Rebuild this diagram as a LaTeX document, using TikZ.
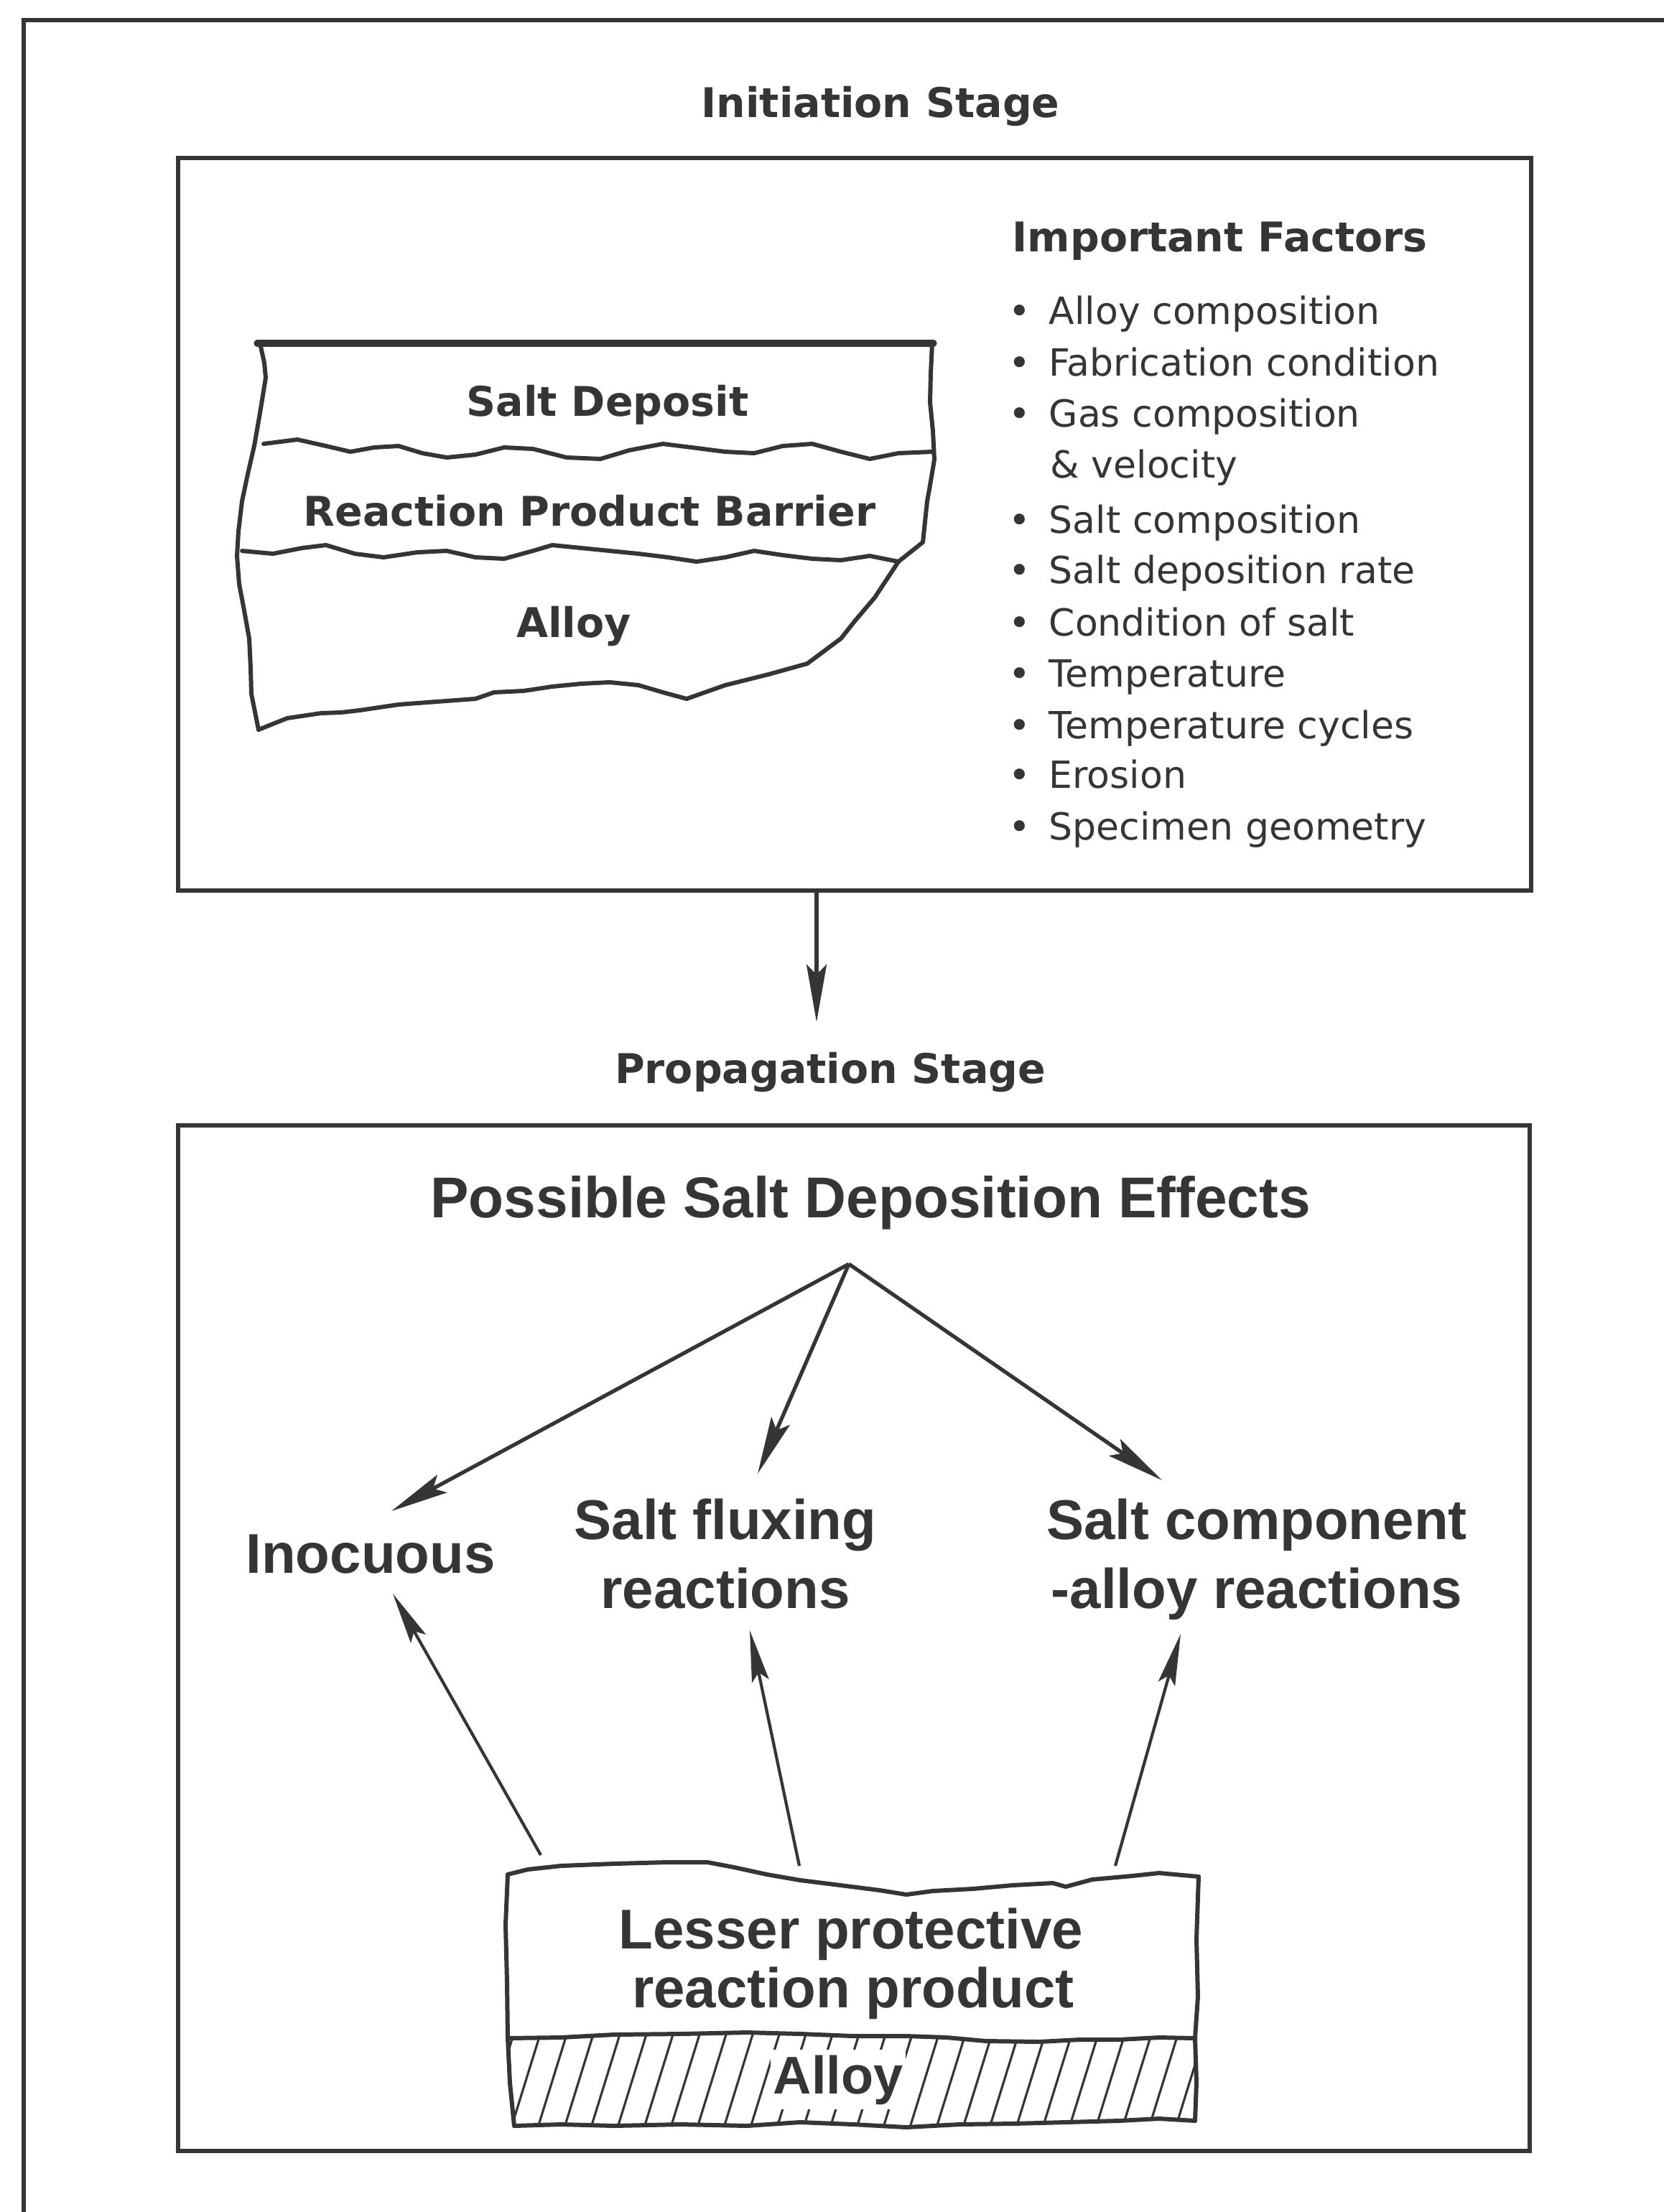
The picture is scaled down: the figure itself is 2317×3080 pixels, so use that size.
\documentclass[tikz,border=0pt]{standalone}
\usepackage{fontspec}
\setmainfont{DejaVu Sans}
\newfontfamily\topfont{DejaVu Sans}
\newfontfamily\botfont{Liberation Sans}
\usetikzlibrary{arrows.meta}
\definecolor{ink}{HTML}{353535}
\begin{document}
\begin{tikzpicture}[x=0.01cm,y=-0.01cm,
  frame/.style={draw=ink, line width=1.6pt},
  box/.style={draw=ink, line width=1.9pt},
  layer/.style={draw=ink, line width=1.7pt, line join=round, line cap=round},
  hatch/.style={draw=ink, line width=0.9pt},
  ttl/.style={font=\topfont\bfseries\fontsize{16.2}{19}\selectfont, text=ink, inner sep=0pt, anchor=base},
  item/.style={font=\topfont\fontsize{14.8}{17}\selectfont, text=ink, inner sep=0pt, anchor=base west},
  eff/.style={font=\botfont\bfseries\fontsize{22.2}{26}\selectfont, text=ink, inner sep=0pt, anchor=base},
  arr/.style={draw=ink, line width=1.5pt, -{Stealth[length=0.8cm, width=0.28cm, inset=0.14cm]}},
  arrs/.style={draw=ink, line width=1.2pt, -{Stealth[length=0.72cm, width=0.24cm, inset=0.12cm]}},
  bul/.style={}]
\useasboundingbox (0,0) rectangle (2317,3080);
\fill[white] (0,0) rectangle (2317,3080);
% outer frame (open to the right and bottom)
\draw[frame] (33,3100) -- (33,28) -- (2330,28);
% stage boxes
\draw[box] (248,220) rectangle (2132,1240);
\draw[box] (248,1567) rectangle (2130,2995);
% ---------- Initiation stage ----------
\node[ttl] (init) at (1226,163) {Initiation Stage};
\node[ttl, anchor=base west] (imp) at (1409,350) {Important Factors};
\newcommand{\bl}{\llap{\textbullet\hspace{0.26cm}}}
\node[item] (f1) at (1460,451) {\bl Alloy composition};
\node[item] (f2) at (1460,523) {\bl Fabrication condition};
\node[item] (f3) at (1460,594) {\bl Gas composition};
\node[item] (f3b) at (1462,665) {\& velocity};
\node[item] (f4) at (1460,742) {\bl Salt composition};
\node[item] (f5) at (1460,812) {\bl Salt deposition rate};
\node[item] (f6) at (1460,885) {\bl Condition of salt};
\node[item] (f7) at (1460,956) {\bl Temperature};
\node[item] (f8) at (1460,1028) {\bl Temperature cycles};
\node[item] (f9) at (1460,1097) {\bl Erosion};
\node[item] (f10) at (1460,1169) {\bl Specimen geometry};
% layered specimen (upper)
\draw[layer, line width=2.6pt] (358,478) -- (1300,478);
\draw[layer] (362,478) -- (368,505) -- (370,526) -- (362,575) -- (354,621) -- (345,660) -- (337,698) -- (332,740) -- (330,774) -- (333,813) -- (340,850) -- (347,889) -- (349,930) -- (350,966) -- (360,1016);
\draw[layer] (1298,478) -- (1296,520) -- (1295,560) -- (1299,600) -- (1301,640) -- (1296,670) -- (1291,698) -- (1285,755) -- (1251,782) -- (1218,832) -- (1190,865) -- (1171,889) -- (1124,924) -- (1070,939) -- (1010,954) -- (956,973);
\draw[layer] (360,1016) -- (400,1000) -- (447,993) -- (475,992) -- (501,989) -- (555,981) -- (608,977) -- (662,973) -- (688,964) -- (729,962) -- (769,956) -- (809,952) -- (849,950) -- (889,954) -- (923,964) -- (956,973);
\draw[layer] (367,618) -- (414,612) -- (454,621) -- (488,629) -- (521,623) -- (555,621) -- (588,631) -- (622,637) -- (662,633) -- (702,623) -- (742,625) -- (789,637) -- (836,639) -- (876,627) -- (923,618) -- (963,623) -- (1010,629) -- (1050,631) -- (1090,621) -- (1131,618) -- (1171,629) -- (1211,639) -- (1251,631) -- (1298,629);
\draw[layer] (337,767) -- (380,771) -- (421,763) -- (454,759) -- (494,771) -- (534,776) -- (581,769) -- (622,767) -- (662,776) -- (702,778) -- (742,767) -- (769,759) -- (809,763) -- (849,767) -- (889,771) -- (930,776) -- (970,782) -- (1010,776) -- (1050,767) -- (1090,773) -- (1131,778) -- (1171,780) -- (1211,774) -- (1251,782);
\node[ttl] (salt) at (846,579) {Salt Deposit};
\node[ttl] (rpb) at (821,732) {Reaction Product Barrier};
\node[ttl] (alloyA) at (799,887) {Alloy};
% ---------- transition ----------
\coordinate (b1bottom) at (1137,1240);
\coordinate (propTop) at (1137,1423);
\draw[arr] (b1bottom) -- (propTop);
\node[ttl] (prop) at (1156,1508) {Propagation Stage};
% ---------- Propagation stage ----------
\node[eff, font=\botfont\bfseries\fontsize{22.8}{26}\selectfont] (pos) at (1212,1695) {Possible Salt Deposition Effects};
\coordinate (apex) at (1182,1760);
\node[eff] (inoc) at (516,2190) {Inocuous};
\node[eff] (flux1) at (1010,2143) {Salt fluxing};
\node[eff] (flux2) at (1010,2239) {reactions};
\node[eff] (comp1) at (1750,2143) {Salt component};
\node[eff] (comp2) at (1750,2239) {-alloy reactions};
\coordinate (inocTop) at (545,2104);
\coordinate (fluxTop) at (1055,2052);
\coordinate (compTop) at (1618,2061);
\draw[arr] (apex) -- (inocTop);
\draw[arr] (apex) -- (fluxTop);
\draw[arr] (apex) -- (compTop);
% lower specimen
\begin{scope}
\clip (707,2838) -- (781,2837) -- (855,2833) -- (948,2832) -- (1040,2830) -- (1114,2832) -- (1188,2835) -- (1262,2835) -- (1318,2837) -- (1373,2842) -- (1447,2843) -- (1503,2840) -- (1558,2840) -- (1614,2837) -- (1664,2838)
  -- (1664,2953) -- (1614,2950) -- (1558,2953) -- (1484,2955) -- (1410,2957) -- (1336,2958) -- (1262,2962) -- (1188,2958) -- (1114,2955) -- (1040,2960) -- (948,2958) -- (855,2960) -- (781,2958) -- (716,2960) -- cycle;
\foreach \x in {560,597,...,1720} { \draw[hatch] (\x,2975) -- (\x+48,2820); }
\end{scope}
\draw[layer] (707,2610) -- (735,2603) -- (781,2598) -- (855,2595) -- (929,2593) -- (985,2593) -- (1022,2600) -- (1068,2610) -- (1114,2618) -- (1170,2625) -- (1225,2632) -- (1262,2638) -- (1299,2633) -- (1355,2630) -- (1410,2625) -- (1466,2622) -- (1484,2627) -- (1521,2617) -- (1577,2612) -- (1614,2608) -- (1669,2613);
\draw[layer] (707,2610) -- (704,2680) -- (706,2760) -- (707,2838) -- (710,2900) -- (716,2960);
\draw[layer] (1669,2613) -- (1666,2700) -- (1668,2780) -- (1664,2838) -- (1666,2900) -- (1664,2953);
\draw[layer] (707,2838) -- (781,2837) -- (855,2833) -- (948,2832) -- (1040,2830) -- (1114,2832) -- (1188,2835) -- (1262,2835) -- (1318,2837) -- (1373,2842) -- (1447,2843) -- (1503,2840) -- (1558,2840) -- (1614,2837) -- (1664,2838);
\draw[layer] (716,2960) -- (781,2958) -- (855,2960) -- (948,2958) -- (1040,2960) -- (1114,2955) -- (1188,2958) -- (1262,2962) -- (1336,2958) -- (1410,2957) -- (1484,2955) -- (1558,2953) -- (1614,2950) -- (1664,2953);
\node[eff] (less1) at (1185,2713) {Lesser protective};
\node[eff] (less2) at (1188,2795) {reaction product};
\node[eff, fill=white, inner xsep=1pt, inner ysep=2pt, font=\botfont\bfseries\fontsize{21}{24}\selectfont] (alloyB) at (1167,2915) {Alloy};
\coordinate (specL) at (753,2583);
\coordinate (specM) at (1113,2598);
\coordinate (specR) at (1553,2598);
\coordinate (inocBot) at (547,2219);
\coordinate (fluxBot) at (1044,2270);
\coordinate (compBot) at (1644,2275);
\draw[arrs] (specL) -- (inocBot);
\draw[arrs] (specM) -- (fluxBot);
\draw[arrs] (specR) -- (compBot);
\end{tikzpicture}
\end{document}
